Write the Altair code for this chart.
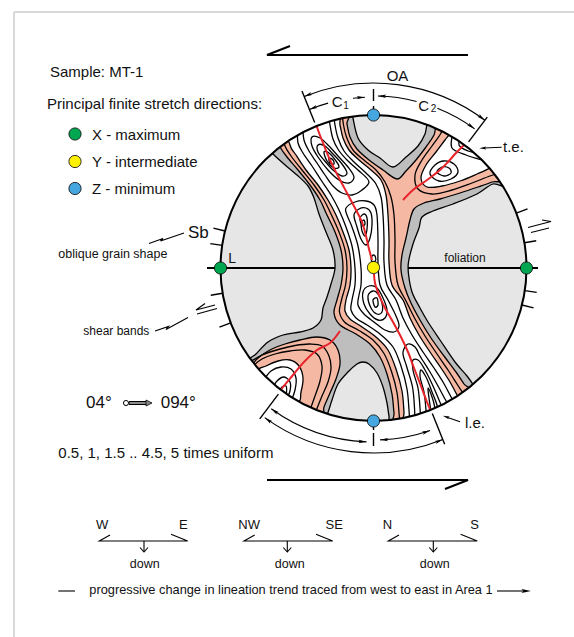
import math
import altair as alt
import pandas as pd

W, H = 574, 637
CX, CY, R = 373.5, 268.0, 153.0

LIGHT = "#e6e6e6"
DARK = "#bebebe"
SALMON = "#f5b9a3"
RED = "#e8232a"
FRAME = "#cccccc"

XS = alt.Scale(domain=[0, W], nice=False, zero=False)
YS = alt.Scale(domain=[0, H], nice=False, zero=False, reverse=True)

# ---------------- density zones (pixel-space outlines) ----------------
zone_gray = [(266,146),(300,100),(352,108),(353,118),(358,138),(368,150),(380,158),(393,167),(406,157),
             (418,146),(425,134),(428,122),(440,105),(500,150),(508,185),(493,184),(477,194),(453,204),
             (433,211),(422,217),(419,228),(413,244),(408.5,262),(408.5,274),(412,292),(420,308),(428,322),
             (440,340),(455,362),(467,376),(474,386),(478,394),(430,440),(392,428),(389,416),(387,403),
             (383,387),(377,373),(369,364),(363,362),(357,364),(348,372),(338,384),(332,400),(327,415),
             (320,428),(250,385),(248,362),(256,354),(268,342),(283,335),(300,332),(313,328),(321,320),
             (323,308),(327,297),(331,284),(335,268),(333,250),(326,232),(319,214),(314,198),(308,186),
             (297,175),(284,164),(273,154)]
zone_salmon_main = [(276,138),(292,112),(345,112),(347,124),(350,137),(357,149),(369,160),(383,170),(397,179),
                    (406,171),(416,160),(426,147),(434,135),(440,120),(470,125),(505,176),(492,182),(478,187),
                    (460,193),(440,199),(424,203),(414,209),(410,220),(406,238),(402,255),(401,270),(405,288),
                    (411,303),(420,320),(431,338),(444,356),(456,372),(464,384),(472,396),(440,432),(396,427),
                    (394,413),(392,394),(387,374),(380,357),(370,344),(356,334),(340,325),(334,313),(337,300),
                    (341,285),(343,268),(341,250),(335,232),(327,215),(320,200),(310,185),(298,170),(287,157),
                    (280,147)]
zone_salmon_sw = [(252,366),(258,358),(270,350),(285,344),(300,340),(316,337),(330,340),(338,350),(340,364),
                  (336,379),(330,393),(324,407),(320,418),(280,402),(250,380)]
zone_white_main = [(290,128),(336,108),(340,125),(343,138),(349,150),(359,160),(371,170),(381,180),(386,195),
                   (388,215),(389,240),(389,262),(392,285),(403,300),(410,318),(419,335),(430,352),(441,368),
                   (450,382),(457,395),(462,405),(440,430),(405,428),(404,412),(402,391),(396,369),(388,350),
                   (376,337),(362,327),(350,319),(345,311),(346,300),(350,285),(351,268),(349,250),(343,232),
                   (336,215),(328,200),(318,185),(306,170),(296,155),(290,145)]
zone_white_ne = [(454,120),(450,133),(445,140),(436,152),(426,165),(421,178),(427,187),(442,186),(460,181),
                 (477,174),(492,167),(500,163),(480,130)]
zone_white_sw = [(258,372),(266,366),(278,361),(290,360),(299,366),(303,378),(301,392),(297,402),(270,395)]

# ---------------- contour lines ----------------
open_lines = {
    "lf": [(283,133),(285,146),(291,156),(302,170),(314,185),(324,200),(331.5,215),(339,232),(345,250),
           (347,268),(345.5,285),(341.5,300),(339.5,312),(344.5,322),(359,330.5),(373,340),(384,353.5),
           (391.5,371.5),(397,392.5),(399,412.5),(400,428)],
    "n1": [(342,110),(343.5,125),(346.5,137),(353,150),(365,161),(376,170),(385,182),(391,197),(394,215),
           (395,240),(395,262),(398,285),(406,301),(414.5,318),(425,336),(437,354),(448,370),(457,384),
           (466,398)],
    "n3": [(446,120),(441,133),(432,146),(422,160),(415,175),(418,189),(432,194),(452,190),(472,183),
           (490,176),(502,172)],
    "a1": [(298,128),(298,143),(303,153),(312,166),(321,180),(331,195),(339,210),(346,227),(352,246),
           (355,268),(355,285),(352,300),(351,310),(356,318),(367,325),(380,334),(393,347),(401,366),
           (407,389),(409,410),(410,428)],
    "b1": [(333,108),(335,125),(338,138),(344,151),(354,162),(366,173),(376,184),(381,197),(383,215),
           (384,240),(384,262),(387,285),(396,300),(403,318),(412,335),(423,352),(434,368),(443,382),
           (450,395),(456,406)],
    "t0": [(303,124),(304,140),(309,151),(317,163),(325,175),(333,186),(342,193),(352,195),(362,190),
           (369,182),(358,170),(347,160),(338.5,150),(333,139),(330,125),(328,112)],
    "e0": [(415,426),(414.5,408),(412.5,387),(406.5,366),(403,352),(408,344),(415,347),(420,356),(430,372),
           (438,386),(445,399),(452,412),(456,424)],
    "e1": [(421,426),(420,408),(418,388),(413,370),(413,360),(418,360),(425,370),(433,386),(439,400),
           (445,414),(448,425)],
    "e2": [(427,426),(426,410),(424,392),(420,376),(421,370),(426,377),(432,392),(437,405),(441,426)],
    "e3": [(432,426),(431,412),(429,398),(428,388),(431,394),(435,408),(437,426)],
    "p":  [(254,365),(262,359),(275,354),(290,351),(305,350),(317,354),(322,366),(320,381),(315,396),(310,410)],
    "p2": [(250,362),(262,355),(280,349),(295,345.5),(310,344),(322,346),(329,356),(331,368),(328,382),
           (322,396),(316,411)],
    "u1": [(456,124),(452,137),(452,148),(466,155),(482,160),(498,164)],
    "u2": [(463,132),(459,145),(468,151),(480,153),(490,150)],
    "q1": [(264,380),(271,371),(281,367),(291,369),(296,378),(295,390),(292,399)],
    "q2": [(272,390),(277,381),(284,377),(290,382),(290,391),(287,398)],
    "q3": [(279,394),(282,387),(286,386),(286,397)],
}
closed_loops = {
    "t1": [(312,137),(320,138),(329,146),(338,156),(348,167),(354,177),(349,183),(339,180),(328,170),(318,157),
           (312,146)],
    "t2": [(318,145),(325,146),(333,154),(342,164),(347,173),(342,176),(333,170),(324,160),(318,152)],
    "t3": [(324,152),(329,153),(336,161),(339,167),(334,168),(327,161)],
    "t4": [(329,158),(333,160),(334,164),(330,163)],
    "md0": [(346,208),(355,202),(366,201),(374,205),(377,215),(378,240),(378,262),(380,285),(388,300),(396,316),
            (399,326),(394,332),(385,330),(374,322),(364,314),(358,305),(359,295),(361,285),(361,268),
            (358,246),(352,227),(347,215)],
    "m1": [(354,215),(359,209),(366,208),(371,213),(372,225),(370,238),(366,245),(361,239),(357,227)],
    "m2": [(360,218),(364,214),(367,218),(367,229),(365,236),(362,231),(361,224)],
    "m3": [(362,222),(364,220),(365,224),(363,226)],
    "d1": [(363,292),(369,286),(377,288),(383,298),(387,310),(385,318),(378,320),(370,314),(364,304)],
    "d2": [(368,296),(373,291),(378,294),(382,303),(382,312),(377,314),(371,308)],
    "d3": [(373,300),(377,298),(378,305),(375,307)],
    "r1": [(430,174),(435,165),(444,161),(454,164),(458,172),(451,179),(439,181)],
    "r2": [(437,172),(442,167),(449,168),(451,173),(444,176)],
    "cap": [(371.5,261),(371.8,256.5),(373.5,255),(375.3,256.5),(375.5,261)],
}
red_lines = {
    "main_n": [(314,114),(317,127),(323,143),(330,160),(338,176),(347,193),(355,208),(362,222),(366,236),
               (369,249),(372,260)],
    "main_s": [(374,274),(375,283),(379,295),(385,308),(393,322),(401,337),(408,352),(414,368),(421,386),
               (427,402),(431,412),(434,420)],
    "ne": [(403,200),(413,190),(427,180),(440,170),(448,162),(456,153),(464,145),(470,139)],
    "sw": [(340,331),(330,343),(317,350),(304,362),(293,375),(283,387),(278,394)],
}

# ---------------- frame annotations around the net ----------------
arc_r = [185, 171, 171, 172, 172, 185, 174, 172]
arc_from = [338, 338, 353.1, 361.5, 381.8, 158, 182.3, 160.8]
arc_to = [397, 344.6, 357.1, 374.5, 396, 216, 216, 177.8]
head_from = [1, 1, 0, 1, 0, 1, 1, 1]
head_to = [1, 0, 1, 0, 1, 1, 1, 1]

radial_az = [338, 37, 217, 158, 0, 180, 0, 180, 69, 80.5, 98.5, 104, 249, 260.5, 278.5, 284]
radial_r1 = [157, 158, 158, 157, 167, 165, 153, 153, 153, 153, 153, 153, 153, 153, 153, 153]
radial_r2 = [191, 189, 189, 190, 179, 178, 162, 162, 165, 165, 165, 165, 165, 165, 165, 165]

dot_x = [373.5, 373.5, 220.5, 526.5, 373.5, 75, 75, 75]
dot_y = [115, 421, 268, 268, 267.5, 134, 161.5, 188.5]
dot_c = ["#45a6e0", "#45a6e0", "#00a650", "#00a650", "#fff100", "#00a650", "#fff100", "#45a6e0"]

polylines = {
    "lead_sb": [(149,243.5),(163,238.5),(160.5,241),(184,233)],
    "lead_shear": [(155,331),(168.5,326.5),(166,329.5),(188,317.5)],
    "sym_w1": [(205,303.5),(196,310),(215,305)],
    "sym_w2": [(197,314),(217,308.5)],
    "sym_e1": [(528,227.5),(551,221.5),(542,220)],
    "sym_e2": [(531,232.5),(549,228)],
    "te": [(501.7,147.3),(484,148)],
    "le": [(460,421.7),(447,417.2)],
    "trend_dash": [(58.3,591),(75,591)],
    "trend_arrow": [(497,591),(524,591)],
}
heavy_lines = {
    "shear_top": [(290,46),(267,55),(468,55)],
    "shear_bot": [(267,480),(468,480),(445,489)],
    "fol_w": [(207,268),(222,268)],
    "fol_e": [(525,268),(538,268)],
}
compass_left = [99.3, 244.0, 388.3]
compass_right = [187.7, 332.7, 477.3]
compass_mid = [144.0, 287.3, 433.3]
for k in range(3):
    l, r_, m = compass_left[k], compass_right[k], compass_mid[k]
    polylines[f"cmp{k}"] = [(l + 10.7, 535), (l, 541), (r_, 541), (r_ - 16.7, 534.3)]
    polylines[f"cmp{k}s"] = [(m, 541), (m, 552)]
    polylines[f"cmp{k}v"] = [(m - 4, 547.5), (m, 552), (m + 4, 547.5)]

heads_extra = [  # x, y, angle, size
    (479.3, 148.3, 267.4, 49),
    (442.7, 415.7, 289, 49),
    (531, 591, 90, 90),
]

texts_left = [
    ("Sample: MT-1", 50, 77.3, 15),
    ("Principal finite stretch directions:", 47, 109.3, 15),
    ("X - maximum", 92, 140, 15),
    ("Y - intermediate", 92, 167.3, 15),
    ("Z - minimum", 92, 194, 15),
    ("OA", 386.7, 80.7, 15),
    ("C", 331.7, 106.5, 15),
    ("1", 343.3, 108.5, 10),
    ("C", 418.3, 110.5, 15),
    ("2", 430.7, 112, 10),
    ("t.e.", 503, 151.7, 15),
    ("l.e.", 465, 428.3, 15),
    ("Sb", 188, 237.7, 17),
    ("oblique grain shape", 58.3, 258.3, 12.5),
    ("shear bands", 83.3, 335, 12),
    ("L", 228.3, 263.3, 14),
    ("foliation", 444.3, 261.7, 12),
    ("04°", 86, 407.5, 17),
    ("094°", 160.7, 407.5, 17),
    ("0.5, 1, 1.5 .. 4.5, 5 times uniform", 58.3, 458.3, 15),
    ("progressive change in lineation trend traced from west to east in Area 1", 89.3, 594.3, 12.8),
]
texts_center = [
    ("W", 102.2, 529.3, 13), ("E", 183.3, 529.3, 13),
    ("NW", 249.2, 529.3, 13), ("SE", 334.2, 529.3, 13),
    ("N", 387.5, 529.3, 13), ("S", 474.5, 529.3, 13),
    ("down", 144.7, 568.3, 12.5), ("down", 289.7, 568.3, 12.5), ("down", 434.7, 568.3, 12.5),
]


def pol(az, r):
    a = math.radians(az)
    return CX + r * math.sin(a), CY - r * math.cos(a)


def paths_frame(named):
    rows = []
    for name, pts in named.items():
        for i, (x, y) in enumerate(pts):
            rows.append({"pid": name, "i": i, "x": x, "y": y})
    return pd.DataFrame(rows)


def xy():
    return dict(x=alt.X("x:Q", scale=XS, axis=None), y=alt.Y("y:Q", scale=YS, axis=None))


def path_layer(named, interp, **mark):
    return alt.Chart(paths_frame(named)).mark_line(interpolate=interp, **mark).encode(
        order="i:Q", detail="pid:N", **xy())


def zone_layer(pts, color):
    return path_layer({"z": pts}, "cardinal-closed", fill=color, stroke="black",
                      strokeWidth=1.3, strokeJoin="round")


center = pd.DataFrame({"x": [CX], "y": [CY]})
TAU = 2 * math.pi + 0.0001

frame = alt.Chart(pd.DataFrame({"x": [14, 14], "y": [12, 12], "x2": [14, W], "y2": [H, 12]})).mark_rule(
    color=FRAME, strokeWidth=1.5).encode(x2="x2:Q", y2="y2:Q", **xy())

disk = alt.Chart(center).mark_arc(outerRadius=R, theta=0, theta2=TAU, fill=LIGHT).encode(**xy())
fol_in = alt.Chart(pd.DataFrame({"x": [221], "y": [268], "x2": [526], "y2": [268]})).mark_rule(
    color="black", strokeWidth=2).encode(x2="x2:Q", y2="y2:Q", **xy())

zones = [
    zone_layer(zone_gray, DARK),
    zone_layer(zone_salmon_main, SALMON),
    zone_layer(zone_salmon_sw, SALMON),
    zone_layer(zone_white_main, "white"),
    zone_layer(zone_white_ne, "white"),
    zone_layer(zone_white_sw, "white"),
]
contours_open = path_layer(open_lines, "catmull-rom", color="black", strokeWidth=1.3)
contours_closed = path_layer(closed_loops, "cardinal-closed", color="black", strokeWidth=1.3)
reds = path_layer(red_lines, "catmull-rom", color=RED, strokeWidth=2)

mask = alt.Chart(center).mark_arc(innerRadius=R, outerRadius=R + 45, theta=0, theta2=TAU,
                                  fill="white").encode(**xy())
rim = alt.Chart(center).mark_arc(innerRadius=R, outerRadius=R, theta=0, theta2=TAU, fillOpacity=0,
                                 stroke="black", strokeWidth=2).encode(**xy())

# scale arcs
arc_df = pd.DataFrame({
    "x": [CX] * len(arc_r), "y": [CY] * len(arc_r), "r": arc_r,
    "t1": [math.radians(a) for a in arc_from], "t2": [math.radians(a) for a in arc_to],
})
arcs = alt.Chart(arc_df).mark_arc(fillOpacity=0, stroke="black", strokeWidth=1.1).encode(
    theta=alt.Theta("t1:Q", scale=None, stack=None), theta2="t2:Q",
    radius=alt.Radius("r:Q", scale=None), radius2="r2:Q", **xy()
).transform_calculate(r2="datum.r")

head_rows = []
for r_, a1, a2, h1, h2 in zip(arc_r, arc_from, arc_to, head_from, head_to):
    if h1:
        px, py = pol(a1, r_)
        head_rows.append({"x": px, "y": py, "ang": (a1 - 90) % 360, "s": 64})
    if h2:
        px, py = pol(a2, r_)
        head_rows.append({"x": px, "y": py, "ang": (a2 + 90) % 360, "s": 64})
for hx, hy, ha, hs in heads_extra:
    head_rows.append({"x": hx, "y": hy, "ang": ha, "s": hs})
heads = alt.Chart(pd.DataFrame(head_rows)).mark_point(
    shape="M0,0L0.42,2L0,1.6L-0.42,2Z", filled=True, color="black", opacity=1).encode(
    angle=alt.Angle("ang:Q", scale=None), size=alt.Size("s:Q", scale=None), **xy())

rad_rows = []
for az, r1, r2 in zip(radial_az, radial_r1, radial_r2):
    x1, y1 = pol(az, r1)
    x2, y2 = pol(az, r2)
    rad_rows.append({"x": x1, "y": y1, "x2": x2, "y2": y2})
radials = alt.Chart(pd.DataFrame(rad_rows)).mark_rule(color="black", strokeWidth=1.4).encode(
    x2="x2:Q", y2="y2:Q", **xy())

plines = path_layer(polylines, "linear", color="black", strokeWidth=1.1)
shear_bars = path_layer(heavy_lines, "linear", color="black", strokeWidth=2)

dots = alt.Chart(pd.DataFrame({"x": dot_x, "y": dot_y, "c": dot_c})).mark_point(
    shape="circle", filled=True, size=150, stroke="black", strokeWidth=0.8, opacity=1).encode(
    color=alt.Color("c:N", scale=None), **xy())

# stretch arrow between the two trends
trend_shaft = alt.Chart(pd.DataFrame({"x": [129], "y": [403], "x2": [146], "y2": [403]})).mark_rule(
    color="black", strokeWidth=4).encode(x2="x2:Q", y2="y2:Q", **xy())
trend_fill = alt.Chart(pd.DataFrame({"x": [129.5], "y": [403], "x2": [146], "y2": [403]})).mark_rule(
    color="#8c8c8c", strokeWidth=2).encode(x2="x2:Q", y2="y2:Q", **xy())
trend_head = alt.Chart(pd.DataFrame({"x": [152], "y": [403]})).mark_point(
    shape="M0,0L-2,-1L-2,1Z", filled=True, fill="#8c8c8c", stroke="black", strokeWidth=0.8,
    size=36, opacity=1).encode(**xy())
trend_ring = alt.Chart(pd.DataFrame({"x": [126], "y": [403]})).mark_point(
    shape="circle", filled=True, fill="white", stroke="black", strokeWidth=1, size=26, opacity=1).encode(**xy())


def text_layer(items, align):
    df = pd.DataFrame(items, columns=["t", "x", "y", "fs"])
    return alt.Chart(df).mark_text(align=align, baseline="alphabetic", font="Liberation Sans",
                                   color="#111111").encode(
        text="t:N", size=alt.Size("fs:Q", scale=None), **xy())


chart = alt.layer(
    frame, disk, fol_in, *zones, contours_open, contours_closed, reds, mask, rim,
    arcs, heads, radials, plines, shear_bars, dots,
    trend_shaft, trend_fill, trend_head, trend_ring,
    text_layer(texts_left, "left"), text_layer(texts_center, "center"),
).properties(
    width=W, height=H, padding=0, autosize=alt.AutoSizeParams(type="none"), background="white"
).configure_view(stroke=None)

chart.save("out.html", embed_options={"renderer": "svg", "actions": False})
